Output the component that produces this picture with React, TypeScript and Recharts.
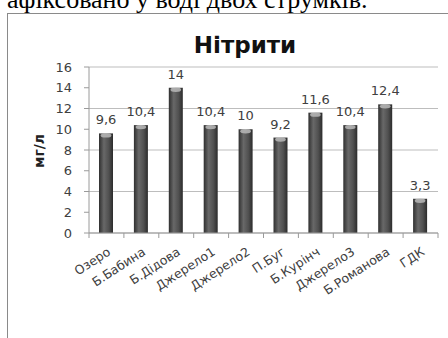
import { BarChart, Bar, XAxis, YAxis, CartesianGrid, LabelList } from 'recharts'

const sites = ['Озеро', 'Б.Бабина', 'Б.Дідова', 'Джерело1', 'Джерело2', 'П.Буг', 'Б.Курінч', 'Джерело3', 'Б.Романова', 'ГДК']
const nitrites = [9.6, 10.4, 14, 10.4, 10, 9.2, 11.6, 10.4, 12.4, 3.3]
const yTicks = [0, 2, 4, 6, 8, 10, 12, 14, 16]

const data = sites.map((site, i) => ({ site, value: nitrites[i] }))

const FONT = '"DejaVu Sans", Verdana, sans-serif'
const AXIS_GRAY = '#9a9a9a'

// decimal comma, as in the source table
const fmt = (v: number) => String(v).replace('.', ',')

// dark cylinder-ish bar with a pale cap at the top
// eslint-disable-next-line @typescript-eslint/no-explicit-any
function CylinderBar(props: any) {
  const { x, y, width, height } = props
  if (!height || height <= 0) return null
  return (
    <g>
      <rect x={x} y={y} width={width} height={height} fill="url(#barGrad)" />
      <ellipse cx={x + width / 2} cy={y + 2} rx={width * 0.38} ry={2.2} fill="#b9b9b9" opacity={0.85} />
    </g>
  )
}

// rotated category label plus the tick marks at band edges
// eslint-disable-next-line @typescript-eslint/no-explicit-any
function SiteTick(props: any) {
  const { x, y, payload, index, visibleTicksCount } = props
  const half = payload.offset ?? 0
  const last = index === visibleTicksCount - 1
  const ax = x + 5
  const ay = y + 13
  return (
    <g>
      <line x1={x - half} x2={x - half} y1={y - 8} y2={y - 3} stroke={AXIS_GRAY} />
      {last && <line x1={x + half} x2={x + half} y1={y - 8} y2={y - 3} stroke={AXIS_GRAY} />}
      <text
        x={ax}
        y={ay}
        textAnchor="end"
        fontFamily={FONT}
        fontSize={12.5}
        fill="#404040"
        transform={`rotate(-33, ${ax}, ${ay})`}
      >
        {payload.value}
      </text>
    </g>
  )
}

export default function App() {
  return (
    <div
      style={{
        position: 'absolute',
        left: 0,
        top: 0,
        width: 448,
        height: 338,
        overflow: 'hidden',
        background: '#fff',
      }}
    >
      {/* frame around the chart, runs off the right and bottom edges */}
      <div
        style={{
          position: 'absolute',
          left: 7,
          top: 13,
          width: 460,
          height: 340,
          border: '1px solid #8a8a8a',
        }}
      />

      <div style={{ position: 'absolute', left: 0, top: 0 }}>
        <BarChart
          width={448}
          height={338}
          data={data}
          margin={{ top: 67, right: 10, left: 0, bottom: 0 }}
          barSize={14}
        >
          <defs>
            <linearGradient id="barGrad" x1="0" y1="0" x2="1" y2="0">
              <stop offset="0%" stopColor="#2f2f2f" />
              <stop offset="35%" stopColor="#686868" />
              <stop offset="70%" stopColor="#505050" />
              <stop offset="100%" stopColor="#2b2b2b" />
            </linearGradient>
          </defs>
          <CartesianGrid vertical={false} stroke="#bdbdbd" />
          <XAxis
            dataKey="site"
            interval={0}
            height={105}
            stroke={AXIS_GRAY}
            tickLine={false}
            tick={<SiteTick />}
          />
          <YAxis
            domain={[0, 16]}
            ticks={yTicks}
            width={89}
            stroke={AXIS_GRAY}
            tickSize={5}
            tickMargin={12}
            tick={{ fontFamily: FONT, fontSize: 13, fill: '#404040' }}
          />
          <Bar dataKey="value" shape={<CylinderBar />} isAnimationActive={false}>
            <LabelList
              dataKey="value"
              position="top"
              offset={9}
              formatter={(v: number) => fmt(v)}
              style={{ fontFamily: FONT, fontSize: 13, fill: '#404040' }}
            />
          </Bar>
        </BarChart>
      </div>

      <svg width={448} height={338} style={{ position: 'absolute', left: 0, top: 0, pointerEvents: 'none' }}>
        <text x={7} y={8} fontFamily='"Liberation Serif", "Times New Roman", serif' fontSize={26} fill="#000">
          афіксовано у воді двох струмків.
        </text>
        <text x={245} y={53} textAnchor="middle" fontFamily={FONT} fontSize={23} fontWeight="bold" fill="#111">
          Нітрити
        </text>
        <text
          x={44}
          y={151}
          textAnchor="middle"
          fontFamily={FONT}
          fontSize={14}
          fontWeight="bold"
          fill="#222"
          transform="rotate(-90, 44, 151)"
        >
          мг/л
        </text>
      </svg>
    </div>
  )
}
